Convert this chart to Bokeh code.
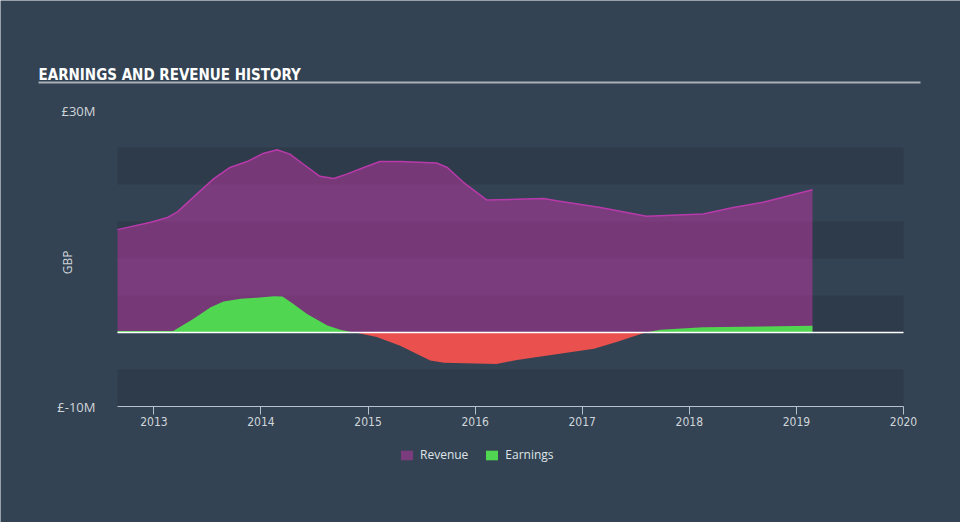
import numpy as np
from bokeh.plotting import figure
from bokeh.models import (ColumnDataSource, FixedTicker, CustomJSTickFormatter, Label,
                          BoxAnnotation, Legend, LegendItem, Range1d, LinearAxis)
from bokeh.embed import file_html
from bokeh.resources import INLINE

# ---- data (GBP millions) ----
rev_years = [2012.66, 2012.97, 2013.12, 2013.22, 2013.40, 2013.56, 2013.71, 2013.87, 2014.02,
             2014.15, 2014.27, 2014.40, 2014.55, 2014.68, 2014.80, 2014.96, 2015.11, 2015.30,
             2015.64, 2015.74, 2015.89, 2016.11, 2016.64, 2016.76, 2017.17, 2017.60, 2018.13,
             2018.41, 2018.69, 2019.15]
revenue = [13.9, 14.9, 15.5, 16.3, 18.7, 20.8, 22.3, 23.1, 24.2, 24.7, 24.1, 22.7, 21.1, 20.8,
           21.4, 22.3, 23.1, 23.1, 22.9, 22.3, 20.3, 17.9, 18.1, 17.8, 16.9, 15.7, 16.0, 16.9,
           17.6, 19.3]

earn_years = [2012.66, 2013.18, 2013.37, 2013.53, 2013.65, 2013.81, 2013.96, 2014.12, 2014.20,
              2014.30, 2014.43, 2014.62, 2014.74, 2014.83, 2014.88, 2015.08, 2015.30, 2015.58,
              2015.71, 2016.20, 2016.39, 2017.11, 2017.32, 2017.59, 2017.73, 2018.13, 2019.15]
earnings = [0.2, 0.2, 1.85, 3.4, 4.2, 4.55, 4.7, 4.9, 4.85, 3.9, 2.5, 0.95, 0.36, 0.1, 0.0,
            -0.6, -1.8, -3.8, -4.1, -4.25, -3.7, -2.2, -1.3, 0.0, 0.36, 0.7, 0.9]

x_ticks = [2013, 2014, 2015, 2016, 2017, 2018, 2019, 2020]
y_ticks = [-10, 30]
y_lim = (-10, 30)
x_lim = (2012.66, 2020)
band_starts = [-10, 0, 10, 20]
title_text = "EARNINGS AND REVENUE HISTORY"

# ---- layout (pixels) ----
W, H = 960, 522
PL, PR, PT, PB = 117, 57, 110, 116          # plot-area insets inside the canvas
kx = (x_lim[1] - x_lim[0]) / (W - PL - PR)
ky = (y_lim[1] - y_lim[0]) / (H - PT - PB)
xr = Range1d(x_lim[0] - PL * kx, x_lim[1] + PR * kx)
yr = Range1d(y_lim[0] - PB * ky, y_lim[1] + PT * ky)

BG = "#334353"
BAND = "#2e3b4a"
TXT = "#d0d5da"

rev_src = ColumnDataSource(dict(x=rev_years, y=revenue, zero=[0] * len(rev_years)))
e = np.array(earnings, dtype=float)
earn_src = ColumnDataSource(dict(x=earn_years, pos=np.maximum(e, 0), neg=np.minimum(e, 0),
                                 zero=[0] * len(earn_years)))

p = figure(width=W, height=H, output_backend="svg", toolbar_location=None,
           x_range=xr, y_range=yr, x_axis_location=None, y_axis_location=None,
           min_border=0, min_border_left=0, min_border_right=0,
           min_border_top=0, min_border_bottom=0)
p.background_fill_color = BG
p.border_fill_color = BG
p.outline_line_color = None
p.grid.visible = False

for lo in band_starts:
    p.add_layout(BoxAnnotation(left=x_lim[0], right=x_lim[1], bottom=lo, top=lo + 5,
                               fill_color=BAND, fill_alpha=1, line_color=None, level="underlay"))

r_rev = p.varea(x="x", y1="zero", y2="y", source=rev_src, fill_color="#b4379f", fill_alpha=0.55)
p.line(x="x", y="y", source=rev_src, line_color="#b83aaa", line_width=1.5)
r_earn = p.varea(x="x", y1="zero", y2="pos", source=earn_src, fill_color="#50d651")
p.varea(x="x", y1="zero", y2="neg", source=earn_src, fill_color="#e9504e")
# zero line
p.add_layout(BoxAnnotation(left=x_lim[0], right=x_lim[1], bottom=0, top=0, fill_alpha=0,
                           line_color="#ffffff", line_alpha=1, line_width=1.5))

# x axis fixed at bottom of plot area
xa = LinearAxis(fixed_location=y_lim[0], ticker=FixedTicker(ticks=x_ticks), bounds=x_lim)
xa.axis_line_color = "#b8c2cc"
xa.major_tick_line_color = "#b8c2cc"
xa.major_tick_out = 8
xa.major_tick_in = 0
xa.minor_tick_line_color = None
xa.major_label_standoff = 2
xa.major_label_text_color = TXT
xa.major_label_text_font = "DejaVu Sans Condensed"
xa.major_label_text_font_size = "12px"
p.add_layout(xa, "below")

# y axis fixed at left edge of plot area
ya = LinearAxis(fixed_location=x_lim[0], ticker=FixedTicker(ticks=y_ticks),
                formatter=CustomJSTickFormatter(code="return '£' + tick + 'M';"))
ya.axis_line_color = None
ya.major_tick_line_color = None
ya.minor_tick_line_color = None
ya.major_label_standoff = 16
ya.major_label_text_color = TXT
ya.major_label_text_font = "Open Sans"
ya.major_label_text_font_size = "13px"
p.add_layout(ya, "left")

p.add_layout(Label(x=67, y=H - 262, x_units="screen", y_units="screen", text="GBP",
                   angle=np.pi / 2, text_align="center", text_baseline="middle",
                   text_color=TXT, text_font="Open Sans", text_font_size="12px"))

# title and rule
p.add_layout(Label(x=38, y=H - 74, x_units="screen", y_units="screen", text=title_text,
                   text_color="#ffffff", text_font="DejaVu Sans Condensed",
                   text_font_style="bold", text_font_size="15px", text_baseline="alphabetic"))
p.add_layout(BoxAnnotation(left=38, right=920, bottom=H - 83, top=H - 81, left_units="screen",
                           right_units="screen", bottom_units="screen", top_units="screen",
                           fill_color="#a9b0b8", fill_alpha=1, line_color=None))

legend = Legend(items=[LegendItem(label="Revenue", renderers=[r_rev]),
                       LegendItem(label="Earnings", renderers=[r_earn])],
                location=(399, H - 463), orientation="horizontal",
                background_fill_alpha=0, border_line_color=None,
                label_text_color="#dfe3e7", label_text_font="Open Sans",
                label_text_font_size="12px", label_height=12, label_standoff=6,
                glyph_width=15, glyph_height=12, spacing=16, padding=0, margin=0)
p.add_layout(legend, "center")

open("out.html", "w").write(file_html(p, INLINE))
